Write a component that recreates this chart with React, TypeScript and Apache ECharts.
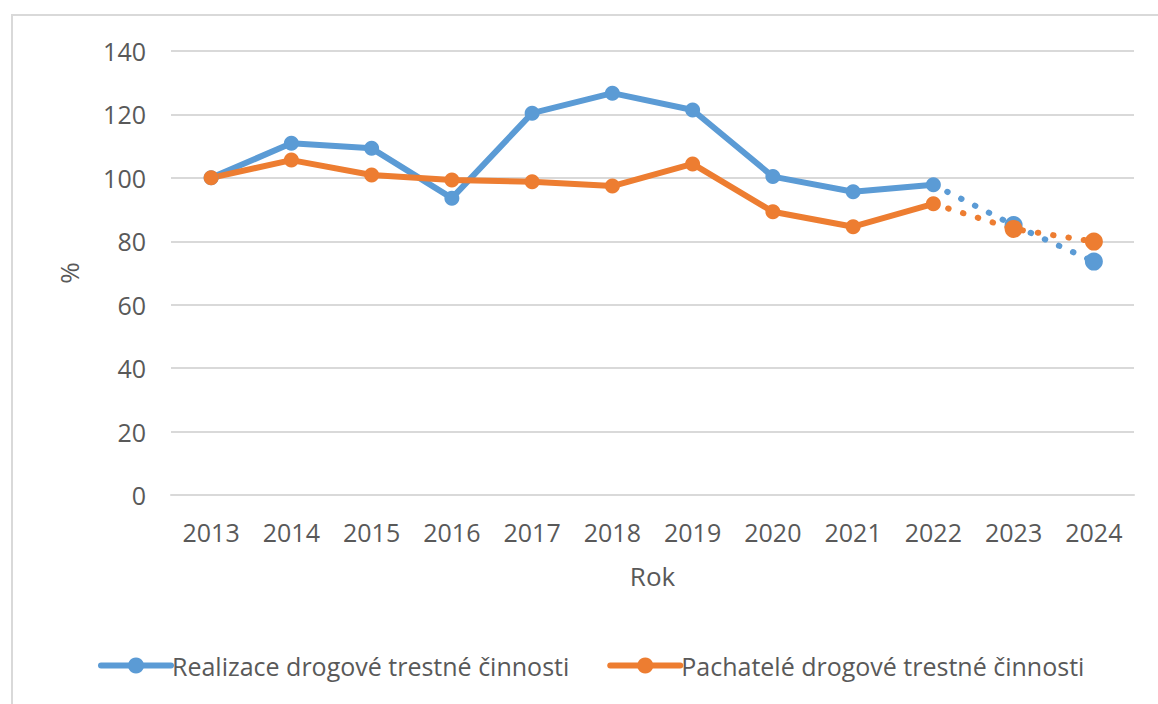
import React, { useEffect, useRef } from "react";
import * as echarts from "echarts";

const years = ["2013", "2014", "2015", "2016", "2017", "2018", "2019", "2020", "2021", "2022", "2023", "2024"];
const realizace = [100, 110.9, 109.3, 93.6, 120.4, 126.7, 121.4, 100.4, 95.6, 97.8, null, null];
const realizaceOdhad = [null, null, null, null, null, null, null, null, null, 97.8, 85.1, 73.6];
const pachatele = [100, 105.6, 100.9, 99.3, 98.8, 97.4, 104.4, 89.3, 84.6, 91.8, null, null];
const pachateleOdhad = [null, null, null, null, null, null, null, null, null, 91.8, 83.9, 79.9];
const yTicks = { min: 0, max: 140, interval: 20 };

const BLUE = "#5B9BD5";
const ORANGE = "#ED7D31";
const TEXT = "#595959";
const GRID = "#D9D9D9";
const FONT = "Open Sans";

export default function App() {
  const ref = useRef<HTMLDivElement>(null);
  useEffect(() => {
    document.body.style.margin = "0";
    const chart = echarts.init(ref.current!, null, { renderer: "svg" });
    const solid = (name: string, data: (number | null)[], color: string) => ({
      name,
      type: "line",
      data,
      color,
      symbol: "circle",
      symbolSize: 15,
      lineStyle: { width: 6, color, cap: "round", join: "round" },
      itemStyle: { color },
      z: 3,
    });
    const dotted = (name: string, data: (number | null)[], color: string) => ({
      name,
      type: "line",
      data,
      color,
      symbol: "circle",
      symbolSize: (v: any, p: any) => (p.dataIndex === 9 ? 0 : 18),
      lineStyle: { width: 6, color, type: [0.5, 15], cap: "round" },
      itemStyle: { color },
      z: 2,
    });
    chart.setOption({
      animation: false,
      textStyle: { fontFamily: FONT },
      graphic: [
        {
          type: "rect",
          shape: { x: 12, y: 15, width: 1300, height: 900 },
          style: { fill: "none", stroke: GRID, lineWidth: 2 },
          silent: true,
        },
      ],
      grid: { left: 171, right: 24, top: 51, bottom: 209 },
      legend: {
        left: 93,
        top: 648,
        itemWidth: 70,
        itemHeight: 20,
        itemGap: 38,
        data: ["Realizace drogové trestné činnosti", "Pachatelé drogové trestné činnosti"],
        textStyle: { color: TEXT, fontSize: 25, fontFamily: FONT, padding: [0, 0, 0, -4] },
        lineStyle: { width: 6 },
      },
      xAxis: {
        type: "category",
        data: years,
        boundaryGap: true,
        name: "Rok",
        nameLocation: "middle",
        nameGap: 68,
        nameTextStyle: { color: TEXT, fontSize: 26, fontFamily: FONT },
        axisLine: { show: true, lineStyle: { color: GRID, width: 2 } },
        axisTick: { show: false },
        axisLabel: { color: TEXT, fontSize: 25, fontFamily: FONT, margin: 24 },
      },
      yAxis: {
        type: "value",
        min: yTicks.min,
        max: yTicks.max,
        interval: yTicks.interval,
        name: "%",
        nameLocation: "middle",
        nameGap: 89,
        nameRotate: 90,
        nameTextStyle: { color: TEXT, fontSize: 26, fontFamily: FONT },
        axisLine: { show: false },
        axisTick: { show: false },
        splitLine: { lineStyle: { color: GRID, width: 2 } },
        axisLabel: { color: TEXT, fontSize: 25, fontFamily: FONT, margin: 25 },
      },
      series: [
        solid("Realizace drogové trestné činnosti", realizace, BLUE),
        solid("Pachatelé drogové trestné činnosti", pachatele, ORANGE),
        dotted("Realizace odhad", realizaceOdhad, BLUE),
        dotted("Pachatelé odhad", pachateleOdhad, ORANGE),
      ],
    });
    return () => chart.dispose();
  }, []);
  return <div ref={ref} style={{ width: 1158, height: 704 }} />;
}
